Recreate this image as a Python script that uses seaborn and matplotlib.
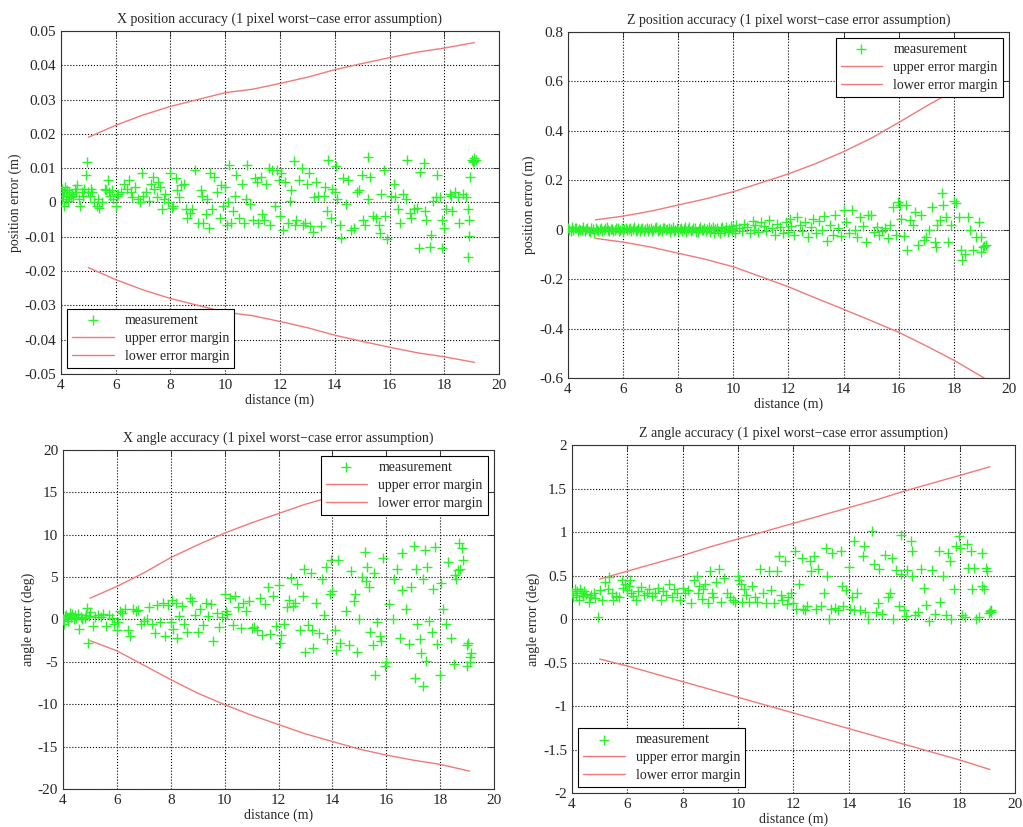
import pandas as pd
import numpy as np
import matplotlib
matplotlib.use("Agg")
import matplotlib.pyplot as plt
from matplotlib.ticker import FuncFormatter
import seaborn as sns

sns.set_style("white")
plt.rcParams['font.family'] = ['Liberation Serif', 'DejaVu Serif']

# x positions of the error margin curves (shared by all panels)
margin_x = [5, 6, 7, 8, 9, 10, 11, 12, 13, 14, 15, 16, 17, 18, 19.1]

# X position accuracy
xpos_upper = [0.019, 0.0225, 0.0255, 0.028, 0.030, 0.032, 0.033, 0.0347, 0.0365, 0.0387,
              0.0405, 0.0422, 0.0438, 0.045, 0.0466]
xpos_lower = [-0.019, -0.0225, -0.0255, -0.028, -0.030, -0.032, -0.033, -0.0347, -0.0365, -0.0387,
              -0.0405, -0.0422, -0.0438, -0.045, -0.0466]
xpos_meas = [
    (4.02, 0.001), (4.05, 0.004), (4.08, 0.002), (4.1, -0.001), (4.12, 0.003), (4.15, 0.0045),
    (4.18, 0.001), (4.2, 0.002), (4.22, 0.0035), (4.25, 0.0005), (4.28, 0.002), (4.3, 0.003),
    (4.35, 0.0015), (4.4, 0.0025), (4.45, 0.002), (4.5, 0.004), (4.55, 0.003), (4.6, 0.005),
    (4.65, 0.001), (4.7, -0.001), (4.75, 0.003), (4.8, 0.002), (4.85, 0.004), (4.9, 0.008),
    (4.94, 0.0118), (5.0, 0.003), (5.05, 0.002), (5.1, 0.004), (5.15, 0.003), (5.2, 0.0),
    (5.3, -0.001), (5.35, 0.001), (5.4, -0.0015), (5.5, 0.0), (5.6, 0.004), (5.65, 0.0035),
    (5.7, 0.0065), (5.75, 0.003), (5.8, 0.002), (5.85, 0.0035), (5.9, 0.001), (6.0, -0.001),
    (6.05, 0.002), (6.1, 0.0025), (6.2, 0.003), (6.3, 0.0055), (6.4, 0.004), (6.5, 0.0065),
    (6.55, 0.003), (6.6, 0.0015), (6.7, 0.0045), (6.8, 0.001), (6.9, 0.0), (6.95, 0.0085),
    (7.0, 0.002), (7.1, 0.003), (7.2, 0.0005), (7.3, 0.0055), (7.35, 0.0075), (7.4, 0.004),
    (7.5, 0.0015), (7.55, 0.006), (7.6, 0.0045), (7.7, -0.002), (7.75, 0.001), (7.8, 0.0025),
    (7.9, 0.0), (8.0, 0.0085), (8.05, -0.0015), (8.1, -0.001), (8.2, 0.007), (8.25, 0.0035),
    (8.3, 0.0015), (8.4, 0.005), (8.5, 0.0055), (8.55, -0.002), (8.6, -0.0045), (8.7, -0.003),
    (8.8, -0.002), (8.9, 0.0095), (9.0, -0.006), (9.1, 0.0035), (9.15, 0.002), (9.2, -0.006),
    (9.3, -0.0035), (9.35, 0.001), (9.4, -0.0075), (9.45, 0.0085), (9.5, -0.002), (9.6, 0.0075),
    (9.7, 0.003), (9.8, -0.0045), (9.85, 0.005), (9.9, -0.001), (10.0, 0.0045), (10.05, -0.0065),
    (10.1, 0.0), (10.15, 0.011), (10.2, -0.006), (10.3, -0.0025), (10.35, 0.002), (10.4, 0.008),
    (10.5, -0.0045), (10.6, 0.0055), (10.7, -0.006), (10.75, 0.001), (10.8, 0.011), (10.9, -0.0005),
    (11.0, -0.005), (11.1, 0.007), (11.15, 0.006), (11.2, -0.006), (11.3, 0.0075), (11.35, -0.0035),
    (11.4, -0.005), (11.5, 0.0055), (11.6, 0.01), (11.65, -0.0065), (11.7, 0.0095), (11.8, -0.001),
    (11.9, 0.0095), (11.95, 0.0065), (12.0, -0.004), (12.05, 0.0085), (12.1, -0.008), (12.2, 0.006),
    (12.3, -0.006), (12.35, 0.0005), (12.4, 0.0035), (12.5, 0.012), (12.55, -0.0065), (12.6, -0.005),
    (12.7, 0.0065), (12.8, 0.01), (12.85, -0.0065), (12.9, -0.006), (13.0, 0.0055), (13.05, 0.0085),
    (13.1, -0.007), (13.2, -0.0085), (13.25, 0.0015), (13.3, 0.006), (13.4, 0.002), (13.5, -0.007),
    (13.6, 0.002), (13.65, 0.0045), (13.7, -0.0025), (13.77, 0.0125), (13.85, -0.0045), (13.9, 0.004),
    (14.0, 0.003), (14.05, 0.0105), (14.1, 0.001), (14.2, -0.0065), (14.22, -0.0105), (14.3, 0.007),
    (14.4, -0.0005), (14.5, 0.0065), (14.6, -0.008), (14.7, -0.0075), (14.8, 0.003), (14.9, 0.0035),
    (15.0, 0.008), (15.05, -0.005), (15.1, -0.0065), (15.2, 0.001), (15.3, 0.0075), (15.23, 0.0133),
    (15.4, -0.004), (15.5, -0.0045), (15.6, -0.0065), (15.65, -0.009), (15.7, 0.0025), (15.8, 0.0095),
    (15.85, -0.004), (15.9, -0.0108), (16.05, 0.002), (16.15, 0.0055), (16.2, 0.0015), (16.3, -0.002),
    (16.4, -0.006), (16.5, 0.0025), (16.6, 0.001), (16.63, 0.0123), (16.75, -0.003), (16.8, -0.0045),
    (16.9, -0.002), (17.0, -0.0015), (17.06, -0.0134), (17.1, 0.009), (17.25, 0.0116), (17.3, -0.0025),
    (17.35, -0.005), (17.48, -0.013), (17.5, -0.0095), (17.6, 0.0005), (17.7, 0.0015), (17.75, 0.008),
    (17.85, 0.0015), (17.9, -0.005), (17.92, -0.0134), (18.0, -0.0075), (18.05, -0.002), (18.2, 0.0025),
    (18.25, 0.002), (18.3, -0.0025), (18.4, 0.003), (18.5, 0.0015), (18.55, -0.006), (18.7, 0.0025),
    (18.8, 0.0015), (18.85, -0.002), (18.9, -0.005), (18.88, -0.0158), (18.92, -0.0098), (18.95, 0.0075),
    (19.02, 0.0125), (19.08, 0.013), (19.1, 0.012), (19.15, 0.0125), (19.05, 0.0118),
]

# Z position accuracy
zpos_upper = [0.04, 0.055, 0.075, 0.10, 0.125, 0.154, 0.19, 0.226, 0.268, 0.316, 0.37, 0.434,
              0.50, 0.563, 0.64]
zpos_lower = [-0.035, -0.05, -0.07, -0.095, -0.12, -0.15, -0.19, -0.231, -0.277, -0.322, -0.368,
              -0.415, -0.47, -0.528, -0.6]
zpos_meas = [
    (4.0, 0.005), (4.05, -0.003), (4.1, -0.005), (4.15, 0.01), (4.2, 0.0), (4.25, 0.006), (4.3, 0.008),
    (4.35, -0.006), (4.4, 0.004), (4.45, -0.002), (4.5, 0.0), (4.55, 0.01), (4.6, -0.004), (4.65, 0.003),
    (4.7, 0.006), (4.75, -0.005), (4.8, -0.01), (4.85, 0.007), (4.9, 0.002), (4.95, -0.015),
    (5.0, 0.005), (5.05, -0.002), (5.1, -0.005), (5.15, 0.004), (5.2, 0.008), (5.25, -0.004),
    (5.3, 0.0), (5.35, 0.006), (5.4, 0.01), (5.45, -0.002), (5.5, -0.006), (5.55, 0.003),
    (5.6, 0.004), (5.65, -0.006), (5.7, -0.003), (5.75, 0.006), (5.8, 0.009), (5.85, -0.004),
    (5.9, 0.0), (5.95, 0.005), (6.0, -0.008), (6.05, 0.002), (6.1, 0.006), (6.15, -0.003),
    (6.2, 0.002), (6.25, 0.008), (6.3, -0.005), (6.35, 0.003), (6.4, 0.01), (6.45, -0.006),
    (6.5, 0.0), (6.55, 0.006), (6.6, -0.004), (6.65, 0.002), (6.7, 0.008), (6.75, -0.007),
    (6.8, 0.003), (6.85, 0.005), (6.9, -0.007), (6.95, 0.001), (7.0, 0.005), (7.05, -0.004),
    (7.1, -0.002), (7.15, 0.007), (7.2, 0.011), (7.25, -0.005), (7.3, 0.0), (7.35, 0.004),
    (7.4, -0.006), (7.45, 0.009), (7.5, 0.007), (7.55, -0.003), (7.6, 0.002), (7.65, 0.006),
    (7.7, -0.008), (7.75, 0.004), (7.8, 0.012), (7.85, -0.004), (7.9, 0.0), (7.95, 0.008),
    (8.0, -0.005), (8.05, 0.003), (8.1, 0.008), (8.15, -0.007), (8.2, 0.003), (8.25, 0.01),
    (8.3, -0.01), (8.35, 0.002), (8.4, 0.01), (8.45, -0.005), (8.5, -0.003), (8.55, 0.007),
    (8.6, 0.006), (8.65, -0.008), (8.7, -0.008), (8.75, 0.004), (8.8, 0.012), (8.85, -0.003),
    (8.9, 0.0), (8.95, 0.009), (9.0, -0.006), (9.05, 0.004), (9.1, 0.01), (9.15, -0.009),
    (9.2, 0.003), (9.25, 0.013), (9.3, -0.012), (9.35, 0.001), (9.4, 0.006), (9.45, -0.007),
    (9.5, -0.015), (9.55, 0.008), (9.6, 0.012), (9.65, -0.004), (9.7, 0.0), (9.75, 0.01),
    (9.8, -0.01), (9.85, 0.004), (9.9, 0.015), (9.95, -0.006), (10.0, 0.005), (10.05, -0.012),
    (10.1, 0.02), (10.2, 0.008), (10.3, -0.005), (10.4, 0.025), (10.5, 0.01), (10.6, -0.015),
    (10.7, 0.035), (10.75, 0.0), (10.8, 0.02), (10.9, -0.01), (11.0, 0.03), (11.1, 0.015),
    (11.2, -0.005), (11.3, 0.04), (11.4, 0.005), (11.5, -0.02), (11.6, 0.025), (11.7, 0.01),
    (11.8, -0.015), (11.9, 0.03), (12.0, -0.01), (12.05, 0.045), (12.1, 0.015), (12.2, -0.02),
    (12.3, 0.05), (12.4, 0.02), (12.5, -0.005), (12.6, 0.03), (12.7, -0.03), (12.8, 0.01),
    (12.9, 0.045), (13.0, -0.015), (13.1, 0.035), (13.2, 0.0), (13.3, 0.055), (13.4, -0.045),
    (13.5, 0.02), (13.6, -0.02), (13.7, 0.06), (13.8, 0.005), (13.9, -0.025), (14.0, 0.08),
    (14.1, 0.03), (14.2, -0.015), (14.3, 0.08), (14.4, 0.0), (14.5, -0.03), (14.6, 0.05),
    (14.7, 0.015), (14.8, -0.05), (14.9, 0.06), (15.0, 0.06), (15.1, -0.01), (15.2, 0.01),
    (15.3, -0.02), (15.4, -0.005), (15.5, 0.005), (15.6, -0.035), (15.7, 0.02), (15.8, 0.09),
    (15.9, -0.02), (15.97, 0.114), (16.05, 0.1), (16.1, 0.045), (16.2, -0.025), (16.25, 0.1),
    (16.3, -0.08), (16.4, 0.04), (16.5, 0.02), (16.6, 0.07), (16.7, -0.06), (16.8, 0.06),
    (16.9, -0.04), (17.0, -0.03), (17.1, 0.0), (17.2, 0.09), (17.3, -0.05), (17.35, -0.07),
    (17.4, 0.02), (17.5, 0.04), (17.58, 0.147), (17.6, 0.1), (17.7, 0.05), (17.8, -0.05),
    (17.9, 0.02), (18.0, 0.115), (18.07, 0.11), (18.2, 0.05), (18.25, -0.08), (18.3, -0.123),
    (18.4, -0.1), (18.5, 0.05), (18.6, 0.0), (18.7, -0.08), (18.8, -0.03), (18.9, 0.03),
    (19.0, -0.03), (19.04, -0.07), (19.1, -0.065), (19.15, -0.06), (19.0, -0.09),
]

# X angle accuracy
xang_upper = [2.5, 3.9, 5.5, 7.3, 8.8, 10.2, 11.4, 12.5, 13.6, 14.5, 15.4, 16.1, 16.8, 17.2, 17.9]
xang_lower = [-2.5, -3.7, -5.4, -7.1, -8.7, -10.05, -11.3, -12.4, -13.5, -14.4, -15.3, -16.0,
              -16.6, -17.1, -17.9]
xang_meas = [
    (4.0, 0.0), (4.05, -0.5), (4.08, 0.4), (4.1, 0.5), (4.15, 0.2), (4.2, -0.2), (4.25, 0.8),
    (4.3, 0.3), (4.35, 0.6), (4.4, 0.0), (4.45, 0.5), (4.5, 0.2), (4.55, 0.7), (4.6, -1.1),
    (4.65, 0.3), (4.7, 0.1), (4.8, 0.2), (4.85, 0.5), (4.88, 1.4), (4.93, -2.8), (4.95, 0.4),
    (5.0, 0.9), (5.1, -0.8), (5.2, 0.3), (5.3, 0.5), (5.4, 0.3), (5.5, 0.6), (5.6, -0.8),
    (5.7, 0.5), (5.8, 0.2), (5.9, -0.5), (6.0, -1.3), (6.05, -0.3), (6.1, 1.0), (6.2, 0.8),
    (6.3, 1.2), (6.4, -1.2), (6.5, -1.9), (6.6, 1.2), (6.7, 1.0), (6.8, 1.1), (6.9, -0.5),
    (7.0, -0.2), (7.1, 0.0), (7.2, 1.5), (7.3, -0.5), (7.4, -1.6), (7.5, 1.7), (7.6, -0.3),
    (7.7, 2.0), (7.8, -1.9), (7.9, 1.7), (8.0, -0.3), (8.05, 2.3), (8.1, -1.1), (8.2, 2.0),
    (8.25, -2.2), (8.3, 0.4), (8.4, 1.6), (8.5, -0.5), (8.6, -1.5), (8.7, 2.5), (8.8, 2.2),
    (8.9, 0.5), (9.0, -1.5), (9.1, 1.2), (9.2, -0.6), (9.3, 2.0), (9.4, 0.4), (9.5, 1.8),
    (9.57, -2.6), (9.7, 0.8), (9.8, -0.9), (9.9, 0.3), (10.0, 3.0), (10.05, 1.0), (10.1, 0.7),
    (10.2, 2.5), (10.3, -0.7), (10.4, 2.8), (10.5, 1.5), (10.6, -1.0), (10.7, 2.0), (10.8, 1.0),
    (10.9, 2.2), (11.0, -1.0), (11.1, -0.9), (11.2, -1.3), (11.3, 2.5), (11.4, -1.8), (11.5, 1.8),
    (11.6, 3.8), (11.7, -1.7), (11.8, 2.8), (11.9, -0.8), (12.0, 4.1), (12.05, -2.8), (12.1, -1.8),
    (12.2, -0.5), (12.3, 1.5), (12.4, 2.3), (12.47, 4.9), (12.55, 1.6), (12.6, 2.0), (12.67, 4.2),
    (12.8, -1.3), (12.9, 2.8), (12.95, 5.9), (12.98, -3.8), (13.1, -0.6), (13.2, 5.5),
    (13.25, -1.3), (13.29, -3.4), (13.4, 1.9), (13.5, -1.6), (13.6, 4.8), (13.7, 0.5), (13.75, 6.2),
    (13.8, -2.3), (13.9, 3.0), (13.95, 7.0), (14.0, 3.3), (14.1, -1.2), (14.15, -3.6), (14.2, 7.0),
    (14.3, -2.8), (14.5, 1.0), (14.6, -3.0), (14.7, 5.7), (14.8, 2.2), (14.85, 3.0), (14.9, -3.8),
    (15.0, 0.0), (15.1, 5.0), (15.2, 8.0), (15.25, 4.5), (15.3, 6.2), (15.35, 3.8), (15.4, -1.5),
    (15.5, -3.0), (15.55, 5.5), (15.58, -6.5), (15.65, -0.3), (15.75, -2.0), (15.8, -2.6),
    (15.89, 7.2), (15.95, -5.5), (16.0, -5.0), (16.1, 1.8), (16.25, 0.0), (16.3, 4.8), (16.4, 6.0),
    (16.5, -2.2), (16.57, 7.9), (16.6, 3.5), (16.75, 1.2), (16.85, -2.9), (16.9, 3.8), (17.03, 8.7),
    (17.06, -6.9), (17.1, 6.0), (17.15, -0.5), (17.25, -2.3), (17.3, -4.0), (17.35, 4.8),
    (17.37, -7.9), (17.44, 8.2), (17.47, -4.9), (17.5, 6.2), (17.6, -0.2), (17.7, -1.5),
    (17.75, 3.6), (17.82, 8.6), (17.9, -2.9), (18.0, -6.5), (18.02, 4.3), (18.1, 1.2),
    (18.2, -0.5), (18.3, 6.8), (18.4, -2.2), (18.5, -5.3), (18.55, 5.2), (18.6, 4.8), (18.65, 5.8),
    (18.7, 9.0), (18.72, 6.0), (18.8, 8.4), (18.85, 7.0), (18.98, -5.5), (19.0, -3.0),
    (19.05, -2.8), (19.1, -4.4), (19.12, -5.0), (19.15, -4.0),
]

# Z angle accuracy
zang_upper = [0.46, 0.55, 0.64, 0.73, 0.83, 0.92, 1.01, 1.10, 1.19, 1.28, 1.37, 1.47, 1.56, 1.65, 1.75]
zang_lower = [-0.46, -0.54, -0.63, -0.72, -0.81, -0.9, -0.99, -1.08, -1.17, -1.26, -1.35, -1.44,
              -1.53, -1.62, -1.73]
zang_meas = [
    (4.0, 0.3), (4.05, 0.25), (4.1, 0.35), (4.15, 0.28), (4.2, 0.32), (4.25, 0.22), (4.3, 0.34),
    (4.35, 0.3), (4.4, 0.27), (4.45, 0.32), (4.5, 0.29), (4.6, 0.2), (4.65, 0.25), (4.7, 0.28),
    (4.8, 0.3), (4.85, 0.24), (4.94, 0.02), (5.0, 0.33), (5.1, 0.22), (5.2, 0.43), (5.3, 0.35),
    (5.35, 0.48), (5.45, 0.3), (5.5, 0.22), (5.6, 0.27), (5.7, 0.25), (5.8, 0.45), (5.85, 0.36),
    (5.9, 0.4), (6.0, 0.33), (6.05, 0.38), (6.1, 0.45), (6.15, 0.3), (6.2, 0.26), (6.3, 0.22),
    (6.4, 0.32), (6.5, 0.37), (6.6, 0.28), (6.7, 0.3), (6.8, 0.34), (6.9, 0.26), (7.0, 0.3),
    (7.1, 0.36), (7.2, 0.22), (7.3, 0.32), (7.4, 0.28), (7.5, 0.4), (7.6, 0.25), (7.7, 0.34),
    (7.8, 0.3), (7.9, 0.22), (8.0, 0.36), (8.1, 0.3), (8.2, 0.33), (8.3, 0.18), (8.4, 0.45),
    (8.5, 0.5), (8.55, 0.3), (8.6, 0.38), (8.7, 0.23), (8.75, 0.35), (8.8, 0.4), (8.9, 0.18),
    (9.0, 0.55), (9.05, 0.3), (9.1, 0.25), (9.2, 0.42), (9.3, 0.58), (9.4, 0.2), (9.5, 0.47),
    (9.6, 0.3), (9.7, 0.25), (9.8, 0.22), (9.9, 0.2), (10.0, 0.5), (10.05, 0.45), (10.1, 0.4),
    (10.15, 0.19), (10.2, 0.34), (10.3, 0.28), (10.4, 0.19), (10.5, 0.38), (10.6, 0.25),
    (10.7, 0.19), (10.8, 0.58), (10.9, 0.3), (11.0, 0.18), (11.1, 0.55), (11.2, 0.33), (11.3, 0.18),
    (11.4, 0.55), (11.47, 0.72), (11.55, 0.28), (11.6, 0.22), (11.71, 0.67), (11.75, 0.17),
    (11.8, 0.25), (11.9, 0.3), (12.0, 0.18), (12.07, 0.78), (12.1, 0.12), (12.2, 0.4), (12.3, 0.7),
    (12.35, 0.12), (12.4, 0.1), (12.5, 0.15), (12.6, 0.67), (12.65, 0.55), (12.73, 0.72),
    (12.8, 0.12), (12.9, 0.58), (13.0, 0.15), (13.1, 0.3), (13.16, 0.82), (13.2, 0.5), (13.3, 0.0),
    (13.35, 0.12), (13.4, 0.76), (13.5, 0.13), (13.6, 0.1), (13.7, 0.78), (13.75, 0.38),
    (13.8, 0.15), (13.9, 0.33), (14.0, 0.6), (14.05, 0.12), (14.1, 0.25), (14.18, 0.9), (14.2, 0.1),
    (14.3, 0.3), (14.4, 0.1), (14.5, 0.72), (14.54, 0.84), (14.6, 0.08), (14.7, 0.0), (14.84, 1.01),
    (14.9, 0.63), (15.0, 0.08), (15.05, 0.18), (15.1, 0.57), (15.2, 0.06), (15.3, 0.74),
    (15.4, 0.25), (15.5, 0.3), (15.55, 0.7), (15.6, 0.0), (15.7, 0.56), (15.8, 0.15), (15.87, 0.97),
    (15.9, 0.52), (16.0, 0.1), (16.05, 0.04), (16.1, 0.56), (16.23, 0.9), (16.28, 0.78), (16.3, 0.5),
    (16.4, 0.05), (16.5, 0.08), (16.6, 0.58), (16.7, 0.36), (16.8, 0.16), (16.9, -0.02),
    (17.0, 0.56), (17.1, 0.06), (17.25, 0.78), (17.3, 0.2), (17.4, 0.5), (17.5, 0.05), (17.6, 0.76),
    (17.65, 0.67), (17.7, 0.0), (17.8, 0.35), (17.86, 0.84), (17.98, 0.95), (18.0, 0.82),
    (18.1, 0.05), (18.2, 0.02), (18.28, 0.86), (18.3, 0.59), (18.4, 0.78), (18.45, 0.34),
    (18.52, 0.59), (18.6, 0.0), (18.7, 0.02), (18.8, 0.38), (18.82, 0.76), (18.9, 0.34),
    (18.94, 0.59), (19.0, 0.55), (19.05, 0.07), (19.1, 0.09), (19.12, 0.08), (19.15, 0.1),
]

GREEN = '#2cf02c'
RED = '#f07a7a'


def drawPanel(ax, meas, upper, lower, title, ylabel, ylim, yticks, legend_loc):
    df = pd.DataFrame(meas, columns=['distance', 'error'])
    sns.scatterplot(data=df, x='distance', y='error', ax=ax, marker='+', color=GREEN,
                    s=60, linewidth=1.0, label='measurement', zorder=3)
    sns.lineplot(x=margin_x, y=upper, ax=ax, color=RED, linewidth=1.0,
                 label='upper error margin', zorder=2)
    sns.lineplot(x=margin_x, y=lower, ax=ax, color=RED, linewidth=1.0,
                 label='lower error margin', zorder=2)

    ax.set_xlim(4, 20)
    ax.set_ylim(*ylim)
    ax.set_xticks(np.arange(4, 21, 2))
    ax.set_yticks(yticks)
    ax.yaxis.set_major_formatter(FuncFormatter(lambda v, p: '%g' % round(v, 4)))
    ax.grid(True, color='black', linestyle=':', linewidth=0.8)
    ax.tick_params(direction='in', top=True, right=True, labelsize=11, length=4, width=0.6)
    for sp in ax.spines.values():
        sp.set_color('#333333')
        sp.set_linewidth(0.8)
    ax.set_title(title, fontsize=10, pad=6)
    ax.set_xlabel('distance (m)', fontsize=10, labelpad=1)
    ax.set_ylabel(ylabel, fontsize=10, labelpad=2)

    leg = ax.legend(loc=legend_loc, fontsize=10, fancybox=False, framealpha=1,
                    edgecolor='black', handlelength=3.0, borderpad=0.35, labelspacing=0.35,
                    borderaxespad=0.45)
    leg.get_frame().set_linewidth(0.8)
    leg.set_zorder(10)


fig = plt.figure(figsize=(10.23, 8.27), dpi=100)
ax1 = fig.add_axes([0.0596, 0.5478, 0.4282, 0.4148])
ax2 = fig.add_axes([0.5552, 0.5429, 0.4311, 0.4184])
ax3 = fig.add_axes([0.0616, 0.0460, 0.4213, 0.4099])
ax4 = fig.add_axes([0.5591, 0.0411, 0.4330, 0.4208])

drawPanel(ax1, xpos_meas, xpos_upper, xpos_lower,
          'X position accuracy (1 pixel worst\u2212case error assumption)', 'position error (m)',
          (-0.05, 0.05), np.arange(-0.05, 0.0501, 0.01), 'lower left')
drawPanel(ax2, zpos_meas, zpos_upper, zpos_lower,
          'Z position accuracy (1 pixel worst\u2212case error assumption)', 'position error (m)',
          (-0.6, 0.8), np.arange(-0.6, 0.801, 0.2), 'upper right')
drawPanel(ax3, xang_meas, xang_upper, xang_lower,
          'X angle accuracy (1 pixel worst\u2212case error assumption)', 'angle error (deg)',
          (-20, 20), np.arange(-20, 21, 5), 'upper right')
drawPanel(ax4, zang_meas, zang_upper, zang_lower,
          'Z angle accuracy (1 pixel worst\u2212case error assumption)', 'angle error (deg)',
          (-2, 2), np.arange(-2, 2.01, 0.5), 'lower left')

fig.savefig('out.png', dpi=100)
